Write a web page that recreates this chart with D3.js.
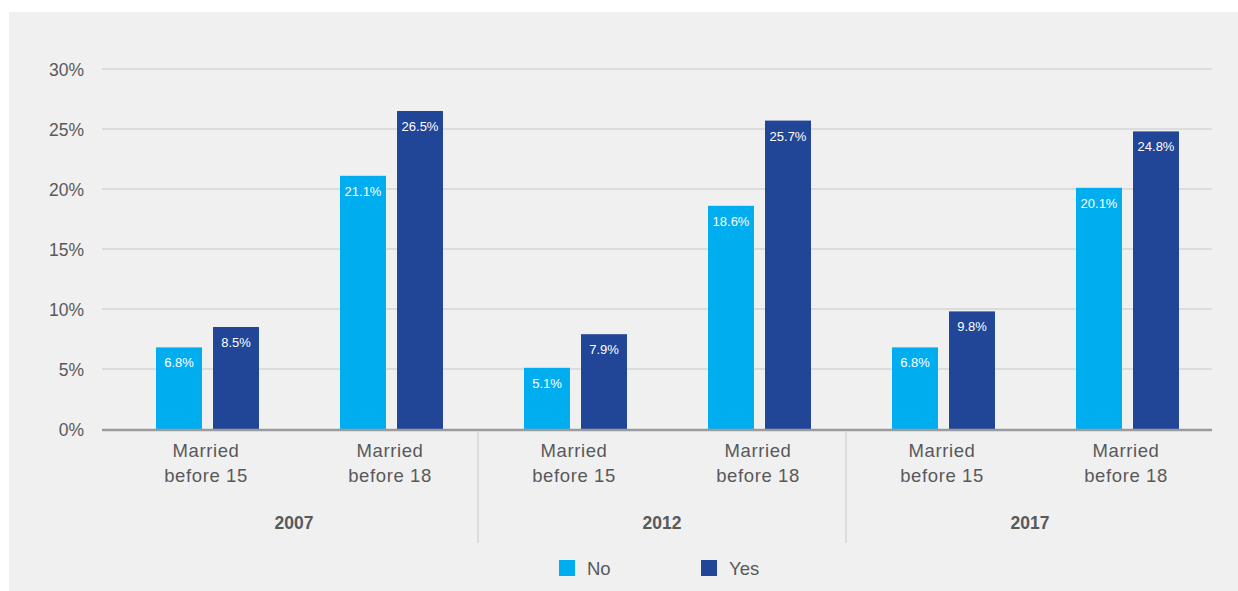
<!DOCTYPE html>
<html>
<head>
<meta charset="utf-8">
<script src="https://cdn.jsdelivr.net/npm/d3@7"></script>
<style>
  html, body { margin: 0; padding: 0; background: #ffffff; }
  svg { display: block; }
  text { font-family: "Liberation Sans", Arial, sans-serif; }
</style>
</head>
<body>
<svg id="chart" width="1238" height="591"></svg>
<script>
const years = ["2007", "2012", "2017"];
const ageGroups = ["Married\nbefore 15", "Married\nbefore 18"];
const seriesNames = ["No", "Yes"];
const noValues  = [6.8, 21.1, 5.1, 18.6, 6.8, 20.1];
const yesValues = [8.5, 26.5, 7.9, 25.7, 9.8, 24.8];
const yTicks = [0, 5, 10, 15, 20, 25, 30];

const colors = { No: "#00aeef", Yes: "#214597" };
const textColor = "#58595b";

const svg = d3.select("#chart");
svg.append("rect").attr("x", 9).attr("y", 12).attr("width", 1229).attr("height", 579).attr("fill", "#f0f0f0");

// categories (year x age group)
const cats = [];
years.forEach(y => ageGroups.forEach(a => cats.push({ year: y, group: a, key: y + "|" + a })));
cats.forEach((c, i) => { c.No = noValues[i]; c.Yes = yesValues[i]; });

const x = d3.scaleBand().domain(cats.map(c => c.key)).range([110, 1214]).padding(0);
const xSub = d3.scaleBand().domain(seriesNames).range([-46, 57]).paddingInner(0.193).paddingOuter(0);
const y = d3.scaleLinear().domain([0, 30]).range([429, 69]);

// gridlines
svg.append("g").selectAll("line").data(yTicks.filter(t => t > 0)).join("line")
  .attr("x1", 102).attr("x2", 1212)
  .attr("y1", d => y(d)).attr("y2", d => y(d))
  .attr("stroke", "#d6d6d6").attr("stroke-width", 1.5);

// y axis labels
const yAxis = d3.axisLeft(y).tickValues(yTicks).tickFormat(d => d + "%").tickSize(0).tickPadding(0);
const yg = svg.append("g").attr("transform", "translate(84,0)").call(yAxis);
yg.select(".domain").remove();
yg.selectAll("text").attr("font-size", 17.5).attr("fill", textColor)
  .attr("font-family", "Liberation Sans, Arial, sans-serif").attr("dy", "0.36em");

// bars
const gCats = svg.append("g").selectAll("g").data(cats).join("g")
  .attr("transform", c => `translate(${x(c.key) + x.bandwidth() / 2},0)`);

gCats.selectAll("rect").data(c => seriesNames.map(s => ({ s, v: c[s] }))).join("rect")
  .attr("x", d => xSub(d.s)).attr("width", xSub.bandwidth())
  .attr("y", d => y(d.v)).attr("height", d => y(0) - y(d.v))
  .attr("fill", d => colors[d.s]);

gCats.selectAll("text.val").data(c => seriesNames.map(s => ({ s, v: c[s] }))).join("text")
  .attr("class", "val")
  .attr("x", d => xSub(d.s) + xSub.bandwidth() / 2)
  .attr("y", d => y(d.v) + 20)
  .attr("text-anchor", "middle").attr("font-size", 13).attr("fill", "#ffffff")
  .text(d => d.v.toFixed(1) + "%");

// axis baseline
svg.append("line").attr("x1", 102).attr("x2", 1212).attr("y1", 430).attr("y2", 430)
  .attr("stroke", "#9b9b9d").attr("stroke-width", 2.5);

// category labels
gCats.append("text").attr("text-anchor", "middle").attr("font-size", 18.5).attr("fill", textColor)
  .attr("letter-spacing", 0.6)
  .selectAll("tspan").data(c => c.group.split("\n")).join("tspan")
  .attr("x", 4).attr("y", (d, i) => 457 + i * 24.5).text(d => d);

// group dividers
const dividers = years.slice(1).map((yr) => yr + "|" + ageGroups[0]);
svg.append("g").selectAll("line").data(dividers).join("line")
  .attr("x1", d => x(d)).attr("x2", d => x(d))
  .attr("y1", 432).attr("y2", 543)
  .attr("stroke", "#d6d6d6").attr("stroke-width", 1.5);

// year labels
svg.append("g").selectAll("text").data(years).join("text")
  .attr("x", yr => (x(yr + "|" + ageGroups[0]) + x(yr + "|" + ageGroups[1]) + x.bandwidth()) / 2)
  .attr("y", 529).attr("text-anchor", "middle")
  .attr("font-size", 17.5).attr("font-weight", "bold").attr("fill", textColor)
  .text(d => d);

// legend
const legendX = d3.scaleOrdinal().domain(seriesNames).range([559, 701]);
const lg = svg.append("g").selectAll("g").data(seriesNames).join("g")
  .attr("transform", s => `translate(${legendX(s)},560)`);
lg.append("rect").attr("width", 16).attr("height", 16).attr("fill", s => colors[s]);
lg.append("text").attr("x", 28).attr("y", 15).attr("font-size", 18.5).attr("fill", textColor).text(s => s);
</script>
</body>
</html>
